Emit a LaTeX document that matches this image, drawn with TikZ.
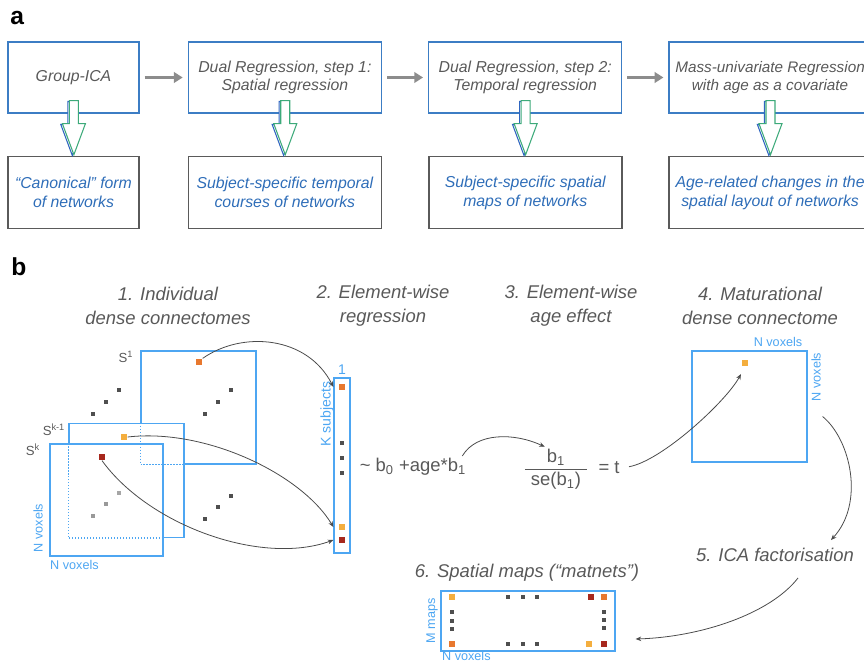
\documentclass[tikz,border=0pt]{standalone}
\usepackage{fontspec}
\setmainfont{Liberation Sans}
\usetikzlibrary{positioning,calc,arrows.meta}

\definecolor{boxblue}{HTML}{3C7DC4}
\definecolor{capblue}{HTML}{2E6DB8}
\definecolor{matblue}{HTML}{4DA6F2}
\definecolor{txtgrey}{HTML}{595959}
\definecolor{boxgrey}{HTML}{5A5A5A}
\definecolor{arrgrey}{HTML}{8C8C8C}
\definecolor{arrgreen}{HTML}{3DAA7A}
\definecolor{arrblue}{HTML}{2F65C0}
\definecolor{linkgrey}{HTML}{4A4A4A}
\definecolor{cellorange}{HTML}{E8782E}
\definecolor{cellyellow}{HTML}{F4AE3E}
\definecolor{cellred}{HTML}{A7281D}
\definecolor{dotgrey}{HTML}{4F4F4F}

\tikzset{
  hollowdown/.pic={
    \draw[pic actions] (-4.5,0) -- (-4.5,23) -- (-11.5,23) -- (0,54) -- (11.5,23) -- (4.5,23) -- (4.5,0) -- cycle;
  }
}

\begin{document}
\begin{tikzpicture}[
x=0.02cm, y=-0.02cm,
topbox/.style={draw=boxblue, line width=0.8pt, minimum height=1.42cm, align=center, inner sep=1pt, text=txtgrey, font=\fontsize{9}{10.5}\selectfont\itshape},
outbox/.style={draw=boxgrey, line width=0.9pt, minimum height=1.44cm, align=center, inner sep=1pt, text=capblue, font=\fontsize{9}{10.8}\selectfont\itshape},
flow/.style={draw=arrgrey, line width=1.3pt, -{Triangle[length=5pt,width=6pt]}, shorten <=5*0.02cm, shorten >=5*0.02cm},
heading/.style={align=center, text=txtgrey, font=\fontsize{10.5}{13.6}\selectfont\itshape},
panel/.style={font=\fontsize{14}{16}\selectfont\bfseries, anchor=base west, inner sep=0pt},
mat/.style={draw=matblue, line width=0.7pt, fill=white, inner sep=0pt},
hidden/.style={draw=matblue, line width=0.7pt, densely dotted},
dim/.style={text=matblue, inner sep=1pt, font=\fontsize{7.2}{8}\selectfont},
slabel/.style={text=txtgrey, inner sep=0pt, font=\fontsize{7.5}{8}\selectfont},
cell/.style={inner sep=0pt, minimum size=0.13cm},
dot/.style={fill=dotgrey, inner sep=0pt, minimum size=0.065cm},
eqn/.style={text=txtgrey, inner sep=1pt, font=\fontsize{10.5}{12}\selectfont},
conn/.style={draw=linkgrey, line width=0.45pt, -{Stealth[length=3.2pt,width=2.6pt]}}
]
\useasboundingbox (0,0) rectangle (864,662);

% ---------------- panel a ----------------
\node[panel] (pa) at (10,25) {a};

% processing steps
\node[topbox, minimum width=2.62cm] (g1) at (73.5,77.5) {Group-ICA};
\node[topbox, minimum width=3.86cm, right=0.96cm of g1] (g2) {Dual Regression, step 1:\\Spatial regression};
\node[topbox, minimum width=3.86cm, right=0.92cm of g2] (g3) {Dual Regression, step 2:\\Temporal regression};
\node[topbox, minimum width=4.04cm, right=0.92cm of g3, font=\fontsize{8.7}{10.5}\selectfont\itshape] (g4) {Mass-univariate Regression\\with age as a covariate};

% outputs
\node[outbox, minimum width=2.62cm, below=0.84cm of g1] (o1) {“Canonical” form\\of networks};
\node[outbox, minimum width=3.86cm, below=0.84cm of g2] (o2) {Subject-specific temporal\\courses of networks};
\node[outbox, minimum width=3.86cm, below=0.84cm of g3] (o3) {Subject-specific spatial\\maps of networks};
\node[outbox, minimum width=4.04cm, below=0.84cm of g4] (o4) {Age-related changes in the\\spatial layout of networks};

% grey arrows between steps
\draw[flow] (g1) -- (g2);
\draw[flow] (g2) -- (g3);
\draw[flow] (g3) -- (g4);

% hollow arrows down to the outputs
\pic[draw=arrblue, fill=white, line width=0.6pt] at ($(g1.south)+(-1.2,-12.2)$) {hollowdown};
\pic[draw=arrgreen, fill=white, line width=0.6pt] at ($(g1.south)+(0.4,-13)$) {hollowdown};
\pic[draw=arrblue, fill=white, line width=0.6pt] at ($(g2.south)+(-1.2,-12.2)$) {hollowdown};
\pic[draw=arrgreen, fill=white, line width=0.6pt] at ($(g2.south)+(0.4,-13)$) {hollowdown};
\pic[draw=arrblue, fill=white, line width=0.6pt] at ($(g3.south)+(-1.2,-12.2)$) {hollowdown};
\pic[draw=arrgreen, fill=white, line width=0.6pt] at ($(g3.south)+(0.4,-13)$) {hollowdown};
\pic[draw=arrblue, fill=white, line width=0.6pt] at ($(g4.south)+(-1.2,-12.2)$) {hollowdown};
\pic[draw=arrgreen, fill=white, line width=0.6pt] at ($(g4.south)+(0.4,-13)$) {hollowdown};

% ---------------- panel b ----------------
\node[panel] (pb) at (11,275) {b};

\node[heading] (h1) at (168,306) {1. Individual\\dense connectomes};
\node[heading] (h2) at (383,306) {2. Element-wise\\regression};
\node[heading] (h3) at (571,306) {3. Element-wise\\age effect};
\node[heading] (h4) at (760,306) {4. Maturational\\dense connectome};

% stack of subject connectomes
\node[mat, minimum width=2.3cm, minimum height=2.26cm] (s1) at (198.5,407.5) {};
\node[mat, minimum width=2.3cm, minimum height=2.28cm] (sk1) at (126.5,480.5) {};
\node[mat, minimum width=2.26cm, minimum height=2.24cm] (sk) at (106.5,500) {};
\draw[hidden] (s1.west |- sk1.north) -- (s1.south west) -- (s1.south -| sk1.east);
\draw[hidden] (sk1.west |- sk.north) -- (sk1.south west) -- (sk1.south -| sk.east);

\node[slabel] (ls1) at (126,357) {S\textsuperscript{1}};
\node[slabel] (lsk1) at (54,430) {S\textsuperscript{k-1}};
\node[slabel] (lsk) at (33,450) {S\textsuperscript{k}};
\node[dim, rotate=90] (nv1) at (38,528) {N voxels};
\node[dim] (nv2) at (74.5,565) {N voxels};

\node[cell, fill=cellorange] (c1) at (199,362) {};
\node[cell, fill=cellyellow] (ck1) at (124,437) {};
\node[cell, fill=cellred] (ck) at (102,457) {};

% ellipsis dots
\path (119,390) node[dot] (e1) {} (106,402) node[dot] (e2) {} (93,414) node[dot] (e3) {};
\path (231,390) node[dot] (e4) {} (218,402) node[dot] (e5) {} (205,414) node[dot] (e6) {};
\path (231,496) node[dot] (e7) {} (218,507) node[dot] (e8) {} (205,519) node[dot] (e9) {};
\path (119,493) node[dot, fill=gray!70] (e10) {} (106,504) node[dot, fill=gray!80] (e11) {} (93,516) node[dot, fill=gray!80] (e12) {};

% one element across subjects
\node[mat, minimum width=0.32cm, minimum height=3.5cm] (vec) at (342,465.5) {};
\node[dim, font=\fontsize{8}{9}\selectfont] (vone) at (342,370) {1};
\node[dim, rotate=90, font=\fontsize{8}{9}\selectfont] (ksub) at (327,414) {K subjects};
\node[cell, fill=cellorange] (vo) at (342,387) {};
\node[cell, fill=cellyellow] (vy) at (342,527) {};
\node[cell, fill=cellred] (vr) at (342,540) {};
\path (342,443) node[dot] (v1) {} (342,458) node[dot] (v2) {} (342,473) node[dot] (v3) {};

\draw[conn] (c1.north east) .. controls +(40,-28) and +(-26,-51) .. (vec.west |- vo);
\draw[conn] (ck1.east) .. controls +(78,-9) and +(-32,-53) .. (vec.west |- vy);
\draw[conn] (ck.south) .. controls +(47,65) and +(-72,26) .. (vec.west |- vr);

% regression and t statistic
\node[eqn] (model) at (413,467) {\textasciitilde{} b\textsubscript{0} +age*b\textsubscript{1}};
\node[eqn] (num) at (556,457) {b\textsubscript{1}};
\node[eqn] (den) at (556,481) {se(b\textsubscript{1})};
\draw[txtgrey, line width=0.5pt] ($(den.north west)+(-4,-1)$) -- ($(den.north east)+(4,-1)$);
\node[eqn] (tval) at (609,468) {= t};

\draw[conn] ($(model.east)+(-6,-11)$) .. controls +(14,-24) and +(-30,-14) .. (num.north west);

% maturational connectome
\node[mat, minimum width=2.3cm, minimum height=2.22cm] (mat4) at (749.5,406.5) {};
\node[cell, fill=cellyellow] (mc) at (745,363) {};
\node[dim] (nv3) at (778,342) {N voxels};
\node[dim, rotate=90] (nv4) at (816,377) {N voxels};

\draw[conn, shorten <=0.15cm, shorten >=0.17cm] (tval.east) .. controls +(40,-7) and +(-19,35) .. (mc.south);

% ICA and spatial maps
\node[heading] (ica) at (775,555) {5. ICA factorisation};
\node[heading] (mtitle) at (527,573) {6. Spatial maps (“matnets”)};
\node[mat, minimum width=3.48cm, minimum height=1.2cm] (maps) at (528,621) {};
\node[dim, rotate=90] (mm) at (432,621) {M maps};
\node[dim, anchor=west] (nv5) at (440,656) {N voxels};

\node[cell, fill=cellyellow] (m1) at (452,597) {};
\node[cell, fill=cellorange] (m2) at (452,644) {};
\node[cell, fill=cellred] (m3) at (591,597) {};
\node[cell, fill=cellorange] (m4) at (604,597) {};
\node[cell, fill=cellyellow] (m5) at (589,644) {};
\node[cell, fill=cellred] (m6) at (604,644) {};
\path (508,597) node[dot] (t1) {} (523,597) node[dot] (t2) {} (537,597) node[dot] (t3) {};
\path (508,644) node[dot] (t4) {} (523,644) node[dot] (t5) {} (537,644) node[dot] (t6) {};
\path (452,612) node[dot] (t7) {} (452,621) node[dot] (t8) {} (452,629) node[dot] (t9) {};
\path (604,612) node[dot] (t10) {} (604,620) node[dot] (t11) {} (604,628) node[dot] (t12) {};

\draw[conn] ($(mat4.east)+(15,10)$) .. controls +(28,23) and +(34,-37) .. ($(ica.north east)+(-29,-2)$);
\draw[conn] ($(ica.south)+(23,10)$) .. controls +(-28,36) and +(65,-2) .. ($(maps.east)+(20,18)$);

\end{tikzpicture}
\end{document}
